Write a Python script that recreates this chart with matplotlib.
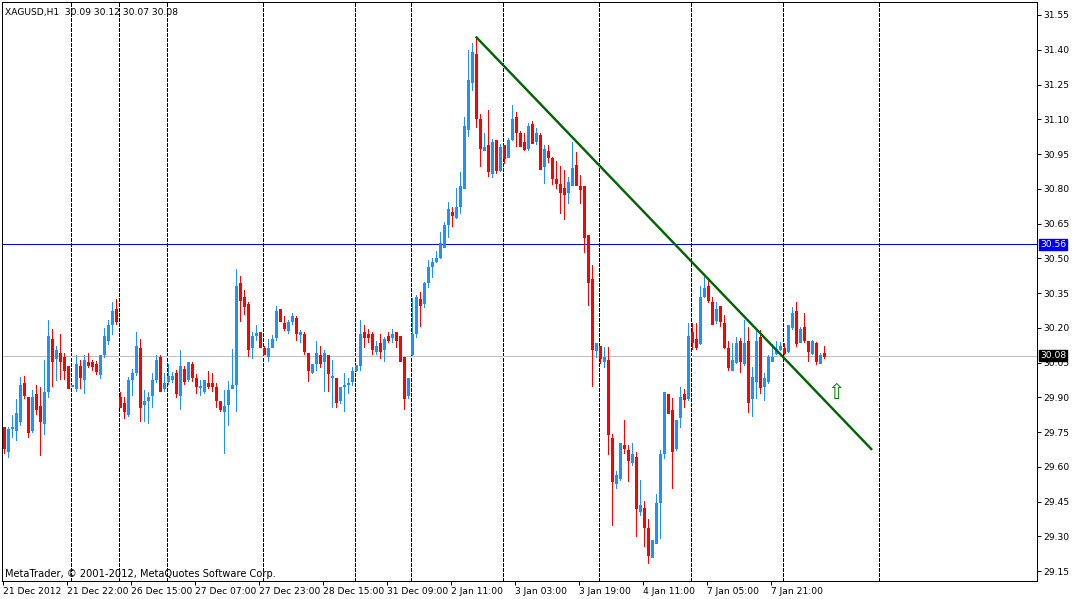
import matplotlib
matplotlib.use("Agg")
import matplotlib.pyplot as plt
from matplotlib.transforms import blended_transform_factory

# ---------------- data ----------------
header_text = "XAGUSD,H1  30.09 30.12 30.07 30.08"
copyright_text = "MetaTrader, \u00a9 2001-2012, MetaQuotes Software Corp."

opens = [29.773, 29.669, 29.769, 29.759, 29.799, 29.962, 29.902, 29.759, 29.914, 29.863,
         29.791, 29.929, 30.152, 30.071, 30.092, 30.074, 30.035, 29.950, 29.942, 30.035,
         29.981, 30.053, 30.053, 30.044, 30.002, 30.089, 30.148, 30.217, 30.281, 29.902,
         29.877, 29.828, 29.981, 30.009, 30.113, 29.871, 29.890, 29.910, 29.979, 30.074,
         29.940, 29.969, 29.979, 30.005, 29.912, 30.022, 29.981, 30.044, 29.985, 29.945,
         29.929, 29.962, 29.962, 29.945, 29.884, 29.843, 29.871, 29.942, 29.959, 30.392,
         30.332, 30.304, 30.117, 30.171, 30.182, 30.113, 30.080, 30.117, 30.161, 30.281,
         30.220, 30.192, 30.230, 30.243, 30.174, 30.174, 30.092, 30.009, 30.050, 30.083,
         30.058, 30.083, 29.989, 29.983, 29.889, 29.950, 29.959, 29.972, 30.018, 30.039,
         30.180, 30.173, 30.173, 30.101, 30.133, 30.108, 30.164, 30.161, 30.180, 30.164,
         30.075, 29.910, 30.087, 30.179, 30.323, 30.308, 30.399, 30.468, 30.488, 30.507,
         30.550, 30.648, 30.701, 30.679, 30.727, 30.802, 31.058, 31.259, 31.382, 31.101,
         30.969, 30.989, 30.869, 31.010, 30.881, 30.989, 30.938, 31.016, 31.110, 31.039,
         31.000, 30.974, 31.078, 31.008, 31.032, 30.900, 30.963, 30.934, 30.842, 30.820,
         30.805, 30.787, 30.816, 30.901, 30.812, 30.812, 30.600, 30.409, 30.104, 30.121,
         30.058, 30.061, 29.723, 29.531, 29.553, 29.694, 29.672, 29.622, 29.641, 29.410,
         29.422, 29.334, 29.212, 29.272, 29.449, 29.661, 29.914, 29.845, 29.680, 29.813,
         29.914, 29.898, 30.180, 30.152, 30.133, 30.337, 30.380, 30.313, 30.234, 30.294,
         30.222, 30.111, 30.018, 30.054, 30.143, 30.047, 30.143, 29.895, 29.970, 30.162,
         29.949, 29.972, 30.058, 30.090, 30.110, 30.113, 30.101, 30.202, 30.272, 30.140,
         30.205, 30.143, 30.090, 30.133, 30.049, 30.090]

highs = [29.773, 29.773, 29.824, 29.891, 29.986, 29.992, 29.902, 29.932, 29.953, 29.946,
         30.061, 30.234, 30.195, 30.122, 30.174, 30.090, 30.035, 29.953, 30.083, 30.061,
         30.081, 30.090, 30.061, 30.056, 30.083, 30.198, 30.234, 30.313, 30.325, 29.923,
         29.903, 29.986, 30.022, 30.184, 30.152, 29.932, 29.925, 30.004, 30.081, 30.081,
         30.004, 30.044, 30.011, 30.018, 30.104, 30.035, 30.053, 30.053, 29.999, 29.975,
         29.975, 30.012, 30.005, 29.962, 29.884, 29.932, 29.971, 30.108, 30.453, 30.424,
         30.363, 30.310, 30.184, 30.212, 30.182, 30.122, 30.152, 30.168, 30.294, 30.281,
         30.251, 30.234, 30.263, 30.251, 30.191, 30.184, 30.092, 30.044, 30.143, 30.122,
         30.104, 30.083, 30.061, 29.983, 29.946, 30.004, 29.985, 30.030, 30.040, 30.233,
         30.212, 30.193, 30.183, 30.143, 30.173, 30.161, 30.180, 30.193, 30.180, 30.164,
         30.075, 29.982, 30.327, 30.341, 30.353, 30.399, 30.492, 30.500, 30.531, 30.615,
         30.658, 30.741, 30.723, 30.805, 30.874, 31.108, 31.399, 31.428, 31.457, 31.123,
         31.042, 31.140, 31.013, 31.010, 30.993, 30.989, 31.020, 31.162, 31.133, 31.051,
         31.039, 31.082, 31.094, 31.064, 31.039, 30.989, 30.989, 30.938, 30.921, 30.898,
         30.881, 30.849, 31.003, 30.960, 30.859, 30.812, 30.600, 30.471, 30.133, 30.121,
         30.118, 30.118, 29.742, 29.583, 29.701, 29.802, 29.694, 29.701, 29.665, 29.543,
         29.452, 29.373, 29.284, 29.482, 29.672, 29.921, 29.914, 29.895, 29.802, 29.946,
         29.934, 30.222, 30.222, 30.219, 30.380, 30.421, 30.409, 30.334, 30.313, 30.294,
         30.255, 30.143, 30.133, 30.162, 30.154, 30.234, 30.205, 30.032, 30.198, 30.190,
         30.003, 30.082, 30.130, 30.143, 30.140, 30.133, 30.212, 30.288, 30.310, 30.205,
         30.262, 30.143, 30.147, 30.140, 30.090, 30.120]

lows = [29.661, 29.641, 29.730, 29.716, 29.782, 29.899, 29.730, 29.752, 29.828, 29.653,
        29.740, 29.900, 29.950, 29.975, 29.979, 29.981, 29.942, 29.950, 29.929, 29.942,
        29.920, 30.030, 30.018, 30.001, 29.982, 30.073, 30.130, 30.174, 30.217, 29.860,
        29.811, 29.821, 29.910, 29.996, 29.799, 29.799, 29.789, 29.860, 29.966, 29.929,
        29.929, 29.959, 29.966, 29.900, 29.850, 29.959, 29.972, 29.972, 29.920, 29.912,
        29.920, 29.940, 29.929, 29.860, 29.843, 29.661, 29.782, 29.940, 29.843, 30.231,
        30.260, 30.079, 30.071, 30.148, 30.119, 30.087, 30.058, 30.117, 30.148, 30.231,
        30.191, 30.179, 30.217, 30.148, 30.139, 30.087, 29.972, 30.004, 30.018, 30.030,
        29.929, 29.929, 29.860, 29.860, 29.877, 29.843, 29.920, 29.952, 30.015, 30.017,
        30.118, 30.140, 30.087, 30.087, 30.068, 30.056, 30.140, 30.140, 30.118, 30.056,
        29.849, 29.898, 30.082, 30.161, 30.209, 30.291, 30.377, 30.420, 30.482, 30.502,
        30.550, 30.590, 30.641, 30.672, 30.697, 30.802, 31.028, 31.226, 31.068, 30.898,
        30.969, 30.855, 30.849, 30.869, 30.878, 30.910, 30.938, 31.010, 30.985, 30.986,
        30.967, 30.967, 30.999, 30.993, 30.887, 30.826, 30.917, 30.820, 30.802, 30.697,
        30.668, 30.737, 30.816, 30.818, 30.740, 30.529, 30.298, 29.949, 30.072, 30.049,
        30.032, 29.654, 29.351, 29.510, 29.543, 29.661, 29.540, 29.608, 29.301, 29.392,
        29.258, 29.183, 29.212, 29.272, 29.291, 29.639, 29.831, 29.510, 29.672, 29.770,
        29.859, 29.888, 30.107, 30.108, 30.130, 30.334, 30.313, 30.216, 30.219, 30.208,
        30.111, 30.018, 30.018, 30.047, 30.011, 30.039, 29.838, 29.821, 29.895, 29.920,
        29.888, 29.960, 30.058, 30.087, 30.104, 30.087, 30.097, 30.196, 30.121, 30.140,
        30.140, 30.058, 30.085, 30.042, 30.047, 30.070]

closes = [29.683, 29.763, 29.773, 29.831, 29.953, 29.912, 29.750, 29.902, 29.851, 29.799,
          29.923, 30.165, 30.058, 30.104, 30.058, 30.020, 29.942, 29.953, 30.043, 29.989,
          30.063, 30.041, 30.033, 30.012, 30.083, 30.165, 30.212, 30.273, 30.230, 29.860,
          29.843, 29.975, 30.005, 30.122, 29.860, 29.883, 29.902, 29.975, 30.061, 29.929,
          29.962, 29.992, 29.992, 29.920, 30.035, 29.971, 30.053, 29.989, 29.949, 29.945,
          29.975, 29.949, 29.949, 29.889, 29.851, 29.863, 29.932, 29.953, 30.381, 30.320,
          30.292, 30.109, 30.165, 30.174, 30.119, 30.087, 30.113, 30.152, 30.273, 30.231,
          30.199, 30.223, 30.251, 30.179, 30.184, 30.102, 30.018, 30.044, 30.090, 30.050,
          30.090, 30.004, 29.992, 29.880, 29.946, 29.953, 29.962, 30.014, 30.039, 30.173,
          30.161, 30.161, 30.108, 30.121, 30.101, 30.150, 30.147, 30.173, 30.147, 30.056,
          29.898, 29.982, 30.173, 30.334, 30.298, 30.392, 30.461, 30.482, 30.500, 30.564,
          30.644, 30.713, 30.687, 30.723, 30.812, 31.071, 31.269, 31.389, 31.107, 30.977,
          30.980, 30.878, 31.002, 30.881, 30.982, 30.931, 31.010, 31.100, 31.046, 30.986,
          30.970, 31.071, 30.999, 31.039, 30.887, 30.970, 30.938, 30.848, 30.823, 30.787,
          30.779, 30.828, 30.890, 30.818, 30.800, 30.590, 30.399, 30.107, 30.133, 30.071,
          30.075, 29.740, 29.540, 29.564, 29.701, 29.682, 29.629, 29.655, 29.421, 29.435,
          29.341, 29.219, 29.284, 29.442, 29.655, 29.921, 29.831, 29.670, 29.802, 29.903,
          29.891, 30.165, 30.140, 30.118, 30.331, 30.370, 30.320, 30.216, 30.280, 30.231,
          30.118, 30.032, 30.061, 30.136, 30.058, 30.136, 29.881, 29.989, 30.144, 29.943,
          29.985, 30.072, 30.072, 30.110, 30.121, 30.090, 30.212, 30.265, 30.133, 30.193,
          30.147, 30.101, 30.143, 30.058, 30.082, 30.080]

time_tick_bars = [0, 16, 32, 48, 64, 80, 96, 112, 128, 144, 160, 176, 192]
time_tick_labels = ["21 Dec 2012", "21 Dec 22:00", "26 Dec 15:00", "27 Dec 07:00",
                    "27 Dec 23:00", "28 Dec 15:00", "31 Dec 09:00", "2 Jan 11:00",
                    "3 Jan 03:00", "3 Jan 19:00", "4 Jan 11:00", "7 Jan 05:00",
                    "7 Jan 21:00"]
price_ticks = [29.15, 29.30, 29.45, 29.60, 29.75, 29.90, 30.05, 30.20, 30.35,
               30.50, 30.65, 30.80, 30.95, 31.10, 31.25, 31.40, 31.55]
separator_bars = [17, 29, 41, 65, 88, 102, 125, 149, 172, 195, 219]
level_price = 30.56
bid_price = 30.08
trend_bars = [118, 217.1]
trend_prices = [31.457, 29.673]
arrow_bar = 208
arrow_price = 29.92

# ---------------- styling ----------------
BULL = "#1E90FF"
BEAR = "#FF0000"
FONT = "DejaVu Sans"
FS = 6.6
PX = 72.0 / 100.0  # one pixel in points

W, H = 1075, 599
fig = plt.figure(figsize=(W / 100, H / 100), dpi=100, facecolor="white")
left_px, right_px, top_px, bottom_px = 2, 1037, 2, 581
ax = fig.add_axes([left_px / W, 1 - bottom_px / H,
                   (right_px - left_px) / W, (bottom_px - top_px) / H])
ax.set_facecolor("white")

# scale: bar i centred at pixel 3.7 + 4 i ; price p at pixel 15 + (31.55 - p) * 231.7
ax.set_xlim((left_px - 3.7) / 4, (right_px - 3.7) / 4)
ax.set_ylim(31.55 - (bottom_px - 15) / 231.7, 31.55 - (top_px - 15) / 231.7)

# period separators
for b in separator_bars:
    ax.axvline(b - 0.1, color="black", lw=1.0 * PX, linestyle=(0, (4.0, 2.0)),
               antialiased=False, zorder=1)

# horizontal lines
ax.axhline(bid_price, color="#C0C0C0", lw=1.0 * PX, zorder=1, antialiased=False)
ax.axhline(level_price, color="#0000FF", lw=1.0 * PX, zorder=1, antialiased=False)

# candles
idx = list(range(len(opens)))
colors = [BULL if c >= o else BEAR for o, c in zip(opens, closes)]
ax.vlines(idx, lows, highs, colors=colors, lw=1.0 * PX, zorder=3, antialiased=False)
body_lo = [min(o, c) for o, c in zip(opens, closes)]
body_hi = [max(max(o, c), min(o, c) + 0.0045) for o, c in zip(opens, closes)]
bodies = ax.vlines(idx, body_lo, body_hi, colors=colors, lw=3.0 * PX, zorder=4,
                   antialiased=False)
bodies.set_capstyle("butt")

# trend line
ax.plot(trend_bars, trend_prices, color="#006400", lw=2.4 * PX, zorder=5,
        solid_capstyle="butt")

# arrow
ax.text(arrow_bar, arrow_price, "\u21e7", color="#008000", fontsize=15,
        family=FONT, ha="center", va="center", zorder=6)

# axes / ticks
for s in ax.spines.values():
    s.set_color("black")
    s.set_linewidth(1.0 * PX)
ax.yaxis.tick_right()
ax.set_yticks(price_ticks)
ax.set_yticklabels(["%.2f" % p for p in price_ticks], fontsize=FS, family=FONT)
ax.set_xticks([b - 0.25 for b in time_tick_bars])
ax.set_xticklabels(time_tick_labels, fontsize=FS, family=FONT, ha="left")
ax.tick_params(axis="x", direction="out", length=3.5 * PX, width=1.0 * PX, pad=1.5)
ax.tick_params(axis="y", direction="out", length=3.5 * PX, width=1.0 * PX, pad=2)

# price labels on the right scale
trans = blended_transform_factory(ax.transAxes, ax.transData)
ax.text(1.0028, level_price, "%.2f" % level_price, transform=trans, color="white",
        fontsize=FS, family=FONT, ha="left", va="center", zorder=10, clip_on=False,
        bbox=dict(boxstyle="square,pad=0.15", fc="#0000FF", ec="#0000FF"))
ax.text(1.0028, bid_price, "%.2f" % bid_price, transform=trans, color="white",
        fontsize=FS, family=FONT, ha="left", va="center", zorder=10, clip_on=False,
        bbox=dict(boxstyle="square,pad=0.15", fc="black", ec="black"))

# texts
ax.text(3 / (right_px - left_px), 1 - 10 / (bottom_px - top_px), header_text,
        transform=ax.transAxes, fontsize=FS, family=FONT, ha="left", va="center")
ax.text(3 / (right_px - left_px), 7 / (bottom_px - top_px), copyright_text,
        transform=ax.transAxes, fontsize=FS + 0.5, family=FONT, ha="left", va="center")

fig.savefig("out.png", dpi=100, facecolor="white")
